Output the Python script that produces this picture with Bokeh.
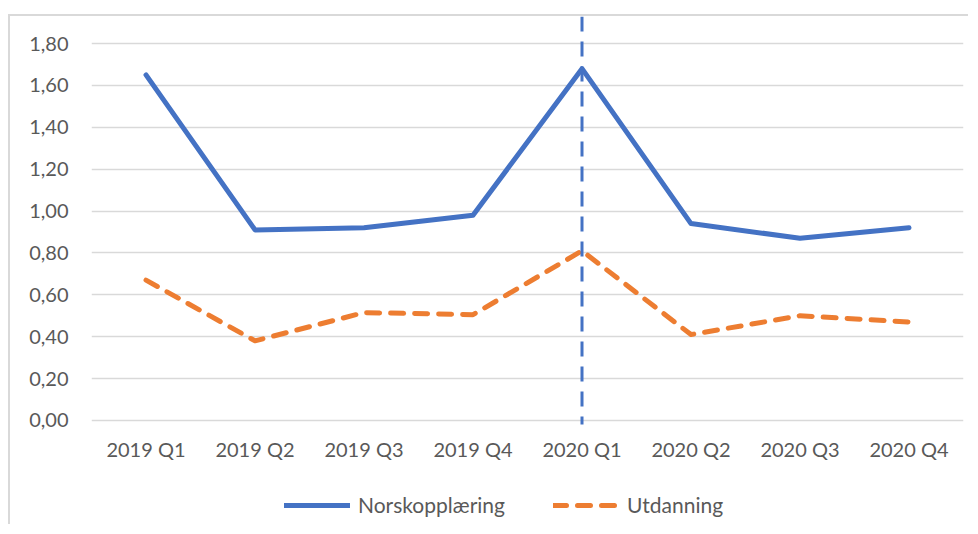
from bokeh.plotting import figure
from bokeh.models import Range1d, FactorRange, FixedTicker, Legend, LegendItem
from bokeh.embed import file_html
from bokeh.resources import INLINE

categories = ["2019 Q1", "2019 Q2", "2019 Q3", "2019 Q4",
              "2020 Q1", "2020 Q2", "2020 Q3", "2020 Q4"]
norskopplaering = [1.65, 0.91, 0.92, 0.98, 1.68, 0.94, 0.87, 0.92]
utdanning = [0.67, 0.38, 0.515, 0.505, 0.81, 0.41, 0.50, 0.47]
y_ticks = [0.0, 0.2, 0.4, 0.6, 0.8, 1.0, 1.2, 1.4, 1.6, 1.8]
y_tick_labels = ["0,00", "0,20", "0,40", "0,60", "0,80", "1,00",
                 "1,20", "1,40", "1,60", "1,80"]
marker_category = "2020 Q1"
marker_span = (-0.019, 1.929)   # vertical marker from just under 0 to the plot-area top

FONT = "Lato"
TXT = "#595959"

# plot area extends below 0 so that the category labels and the legend sit inside it
y_bottom = -0.5065
p = figure(width=960, height=510, output_backend="svg", toolbar_location=None,
           x_range=FactorRange(*categories, range_padding=0),
           y_range=Range1d(y_bottom, marker_span[1]),
           min_border_left=81, min_border_right=7, min_border_top=0,
           min_border_bottom=0)
p.margin = (14, 0, 0, 8)
p.styles = {"border-top": "2px solid #d9d9d9", "border-left": "2px solid #d9d9d9"}
p.outline_line_color = None
p.background_fill_color = "white"
p.border_fill_color = "white"

p.xgrid.grid_line_color = None
p.ygrid.grid_line_color = "#d9d9d9"
p.ygrid.grid_line_width = 1.5

p.yaxis.ticker = FixedTicker(ticks=y_ticks)
p.yaxis.major_label_overrides = {t: l for t, l in zip(y_ticks, y_tick_labels)}
p.xaxis.fixed_location = 0
for ax in (p.xaxis, p.yaxis):
    ax.axis_line_color = None
    ax.major_tick_line_color = None
    ax.minor_tick_line_color = None
    ax.major_label_text_font = FONT
    ax.major_label_text_font_size = "20px"
    ax.major_label_text_color = TXT
p.yaxis.major_label_standoff = 17
p.xaxis.major_label_standoff = 11

r1 = p.line(categories, norskopplaering, line_color="#4472C4", line_width=5,
            line_cap="round", line_join="round")
r2 = p.line(categories, utdanning, line_color="#ED7D31", line_width=5,
            line_dash="13 11", line_cap="round", line_join="round")

p.segment(x0=[marker_category], y0=[marker_span[1]], x1=[marker_category],
          y1=[marker_span[0]], line_color="#4472C4", line_width=3,
          line_dash="15 10")

legend = Legend(items=[LegendItem(label="Norskopplæring", renderers=[r1]),
                       LegendItem(label="Utdanning", renderers=[r2])],
                orientation="horizontal", location=(193, 9),
                glyph_width=66, glyph_height=20, label_height=20,
                label_standoff=8, spacing=48, padding=0, margin=0,
                border_line_color=None, background_fill_alpha=0,
                label_text_font=FONT, label_text_font_size="21px",
                label_text_color=TXT)
p.add_layout(legend, "center")

open("out.html", "w").write(file_html(p, INLINE))
